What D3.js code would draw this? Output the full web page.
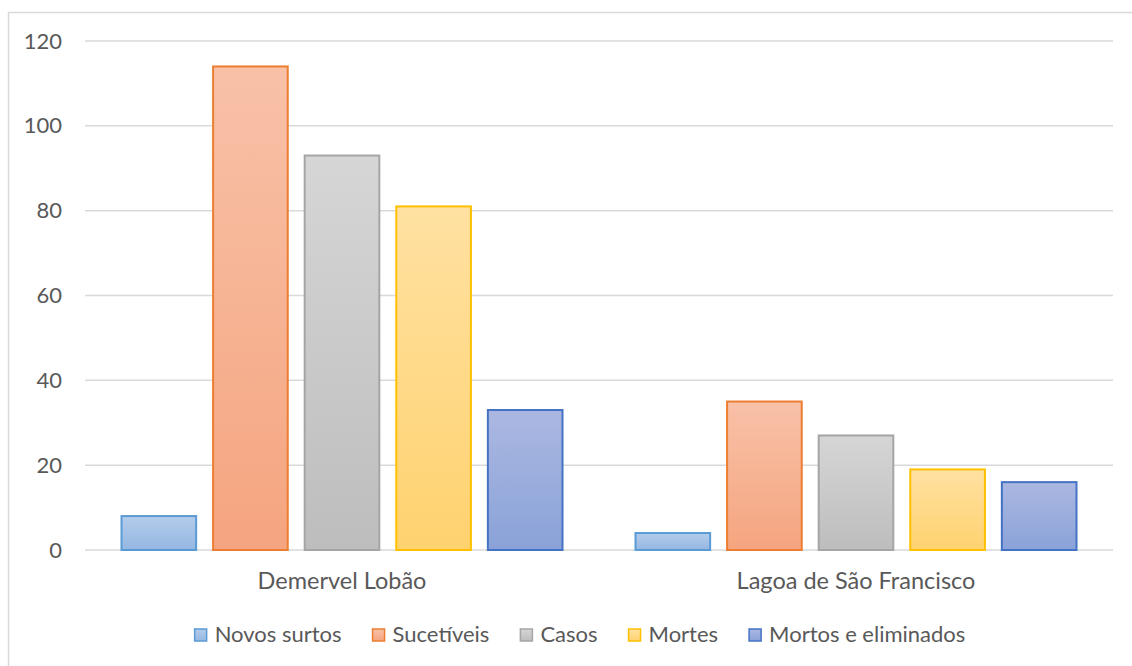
<!DOCTYPE html>
<html>
<head>
<meta charset="utf-8">
<script src="https://cdn.jsdelivr.net/npm/d3@7"></script>
<style>
  html, body { margin: 0; padding: 0; background: #fff; }
  svg { display: block; }
  text { font-family: Lato, "Open Sans", sans-serif; fill: #595959; }
</style>
</head>
<body>
<svg id="chart" width="1132" height="666"></svg>
<script>
// Municipalities on the x axis
const categories = ["Demervel Lobão", "Lagoa de São Francisco"];
// Series names (legend order)
const seriesNames = ["Novos surtos", "Sucetíveis", "Casos", "Mortes", "Mortos e eliminados"];
// Values per series, one entry per municipality
const novosSurtos = [8, 4];
const sucetiveis = [114, 35];
const casos = [93, 27];
const mortes = [81, 19];
const mortosEliminados = [33, 16];
// Y axis ticks
const yTicks = [0, 20, 40, 60, 80, 100, 120];

const seriesValues = [novosSurtos, sucetiveis, casos, mortes, mortosEliminados];
// stroke, gradient top, gradient bottom
const palette = [
  { stroke: "#5b9bd5", top: "#b3cceb", bottom: "#95b7e2" },
  { stroke: "#ed7d31", top: "#f8c1a8", bottom: "#f5a57f" },
  { stroke: "#a5a5a5", top: "#d6d6d6", bottom: "#bdbdbd" },
  { stroke: "#ffc000", top: "#ffe1a1", bottom: "#ffd26f" },
  { stroke: "#4472c4", top: "#abb8e1", bottom: "#8aa2d9" }
];

const svg = d3.select("#chart");
const defs = svg.append("defs");
palette.forEach((p, i) => {
  const g = defs.append("linearGradient")
    .attr("id", "grad" + i).attr("x1", 0).attr("y1", 0).attr("x2", 0).attr("y2", 1);
  g.append("stop").attr("offset", "0%").attr("stop-color", p.top);
  g.append("stop").attr("offset", "100%").attr("stop-color", p.bottom);
});

// Chart frame
svg.append("rect")
  .attr("x", 8.5).attr("y", 12.5).attr("width", 1200).attr("height", 700)
  .attr("fill", "#fff").attr("stroke", "#d9d9d9").attr("stroke-width", 1.5);

const plot = { left: 85, right: 1113, top: 41, bottom: 550 };

const x0 = d3.scaleBand().domain(categories)
  .range([plot.left, plot.right]).paddingInner(0).paddingOuter(0);
const x1 = d3.scaleBand().domain(seriesNames)
  .range([36.5, x0.bandwidth() - 36.5]).paddingInner(0.185).paddingOuter(0);
const y = d3.scaleLinear().domain([0, 120]).range([plot.bottom, plot.top]);

// Gridlines
svg.append("g").selectAll("line").data(yTicks).join("line")
  .attr("x1", plot.left).attr("x2", plot.right)
  .attr("y1", d => y(d)).attr("y2", d => y(d))
  .attr("stroke", "#d9d9d9").attr("stroke-width", 1.5);

// Y axis labels
const yAxis = svg.append("g")
  .attr("transform", `translate(${plot.left},0)`)
  .call(d3.axisLeft(y).tickValues(yTicks).tickSize(0).tickPadding(23).tickFormat(d3.format("d")));
yAxis.select(".domain").remove();
yAxis.selectAll("text").style("font-size", "22px").attr("fill", "#595959")
  .style("font-family", "Lato, 'Open Sans', sans-serif");

// Bars
const groups = svg.append("g").selectAll("g").data(categories).join("g")
  .attr("transform", d => `translate(${x0(d)},0)`);
groups.selectAll("rect")
  .data((c, ci) => seriesNames.map((s, si) => ({ s, si, v: seriesValues[si][ci] })))
  .join("rect")
  .attr("x", d => x1(d.s))
  .attr("width", x1.bandwidth())
  .attr("y", d => y(d.v))
  .attr("height", d => y(0) - y(d.v))
  .attr("fill", d => `url(#grad${d.si})`)
  .attr("stroke", d => palette[d.si].stroke)
  .attr("stroke-width", 2);

// Category axis labels
const xAxis = svg.append("g")
  .attr("transform", `translate(0,${plot.bottom})`)
  .call(d3.axisBottom(x0).tickSize(0));
xAxis.select(".domain").remove();
xAxis.selectAll("text").attr("y", 39).attr("dy", 0)
  .style("font-size", "23.5px").attr("fill", "#595959")
  .style("font-family", "Lato, 'Open Sans', sans-serif");

// Legend
const legend = svg.append("g");
const items = legend.selectAll("g").data(seriesNames).join("g");
items.append("rect")
  .attr("width", 12).attr("height", 12).attr("y", -13)
  .attr("fill", (d, i) => `url(#grad${i})`)
  .attr("stroke", (d, i) => palette[i].stroke).attr("stroke-width", 1.5);
items.append("text")
  .attr("x", 20).attr("y", 0)
  .style("font-size", "22px")
  .text(d => d);
let xPos = 0;
const gap = 31;
items.each(function () {
  const w = 20 + d3.select(this).select("text").node().getComputedTextLength();
  d3.select(this).attr("transform", `translate(${xPos},0)`);
  xPos += w + gap;
});
const totalW = xPos - gap;
legend.attr("transform", `translate(${580 - totalW / 2},642)`);
</script>
</body>
</html>
